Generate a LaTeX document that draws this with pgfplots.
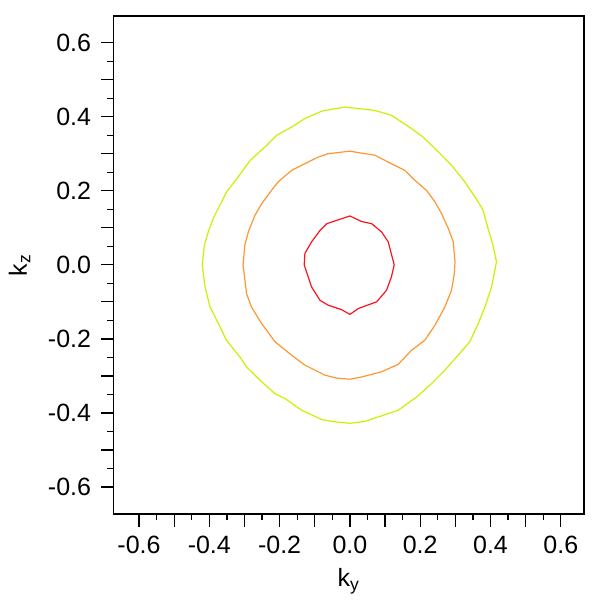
\documentclass[border=0pt]{standalone}
\usepackage{pgfplots}
\pgfplotsset{compat=1.18}
\usepackage{fontspec}
\setmainfont{Liberation Sans}
\definecolor{cgreen}{RGB}{204,240,0}
\definecolor{corange}{RGB}{255,150,50}
\definecolor{cred}{RGB}{250,20,30}
\begin{document}
\begin{tikzpicture}
\path[use as bounding box] (-56.85pt,-43pt) rectangle (243.15pt,257pt);
\begin{axis}[
  at={(0pt,0pt)}, anchor=south west,
  scale only axis, width=235.15pt, height=249pt,
  xmin=-0.672, xmax=0.666, ymin=-0.673, ymax=0.672,
  axis line style={line width=0.65pt},
  every tick/.style={black, line width=0.65pt},
  tick align=outside,
  xtick pos=bottom, ytick pos=left,
  major tick length=6.3pt, minor tick length=3.2pt,
  xtick={-0.6,-0.5,-0.4,-0.3,-0.2,-0.1,0,0.1,0.2,0.3,0.4,0.5,0.6},
  ytick={-0.6,-0.5,-0.4,-0.3,-0.2,-0.1,0,0.1,0.2,0.3,0.4,0.5,0.6},
  xticklabels={-0.6,,-0.4,,-0.2,,0.0,,0.2,,0.4,,0.6},
  yticklabels={-0.6,,-0.4,,-0.2,,0.0,,0.2,,0.4,,0.6},
  minor x tick num=1, minor y tick num=1,
  ticklabel style={font=\fontsize{12.5}{14}\selectfont},
  yticklabel style={xshift=-1.5pt},
  xticklabel style={yshift=-1pt},
  xlabel={k\textsubscript{y}}, ylabel={k\textsubscript{z}},
  label style={font=\fontsize{12.5}{14}\selectfont},
  xlabel style={at={(axis description cs:0.5,-0.135)}, anchor=center},
  ylabel style={at={(axis description cs:-0.2,0.5)}, anchor=center},
  every axis plot/.append style={line width=0.6pt, mark=none},
]
\addplot[cgreen] coordinates {
(0.417,0.008) (0.407,0.053) (0.393,0.098) (0.379,0.147) (0.365,0.170) (0.346,0.197) (0.327,0.224) (0.289,0.269) (0.242,0.314) (0.208,0.345) (0.175,0.368) (0.118,0.404) (0.071,0.417) (0.014,0.423) (-0.014,0.426) (-0.052,0.420) (-0.080,0.415) (-0.128,0.395) (-0.166,0.372) (-0.208,0.350) (-0.242,0.318) (-0.284,0.282) (-0.318,0.237) (-0.351,0.197) (-0.370,0.161) (-0.389,0.125) (-0.403,0.089) (-0.414,0.053) (-0.420,0.0) (-0.412,-0.060) (-0.398,-0.114) (-0.374,-0.159) (-0.351,-0.204) (-0.313,-0.249) (-0.294,-0.276) (-0.251,-0.316) (-0.213,-0.348) (-0.185,-0.361) (-0.137,-0.393) (-0.080,-0.418) (-0.043,-0.424) (0.0,-0.428) (0.043,-0.423) (0.080,-0.411) (0.137,-0.393) (0.190,-0.357) (0.232,-0.321) (0.270,-0.285) (0.308,-0.244) (0.341,-0.208) (0.365,-0.159) (0.384,-0.114) (0.403,-0.060) (0.417,0.008)
};
\addplot[corange] coordinates {
(0.299,0.008) (0.294,0.062) (0.280,0.098) (0.261,0.138) (0.242,0.170) (0.218,0.201) (0.185,0.228) (0.156,0.255) (0.118,0.273) (0.071,0.296) (0.024,0.303) (0,0.307) (-0.062,0.300) (-0.090,0.291) (-0.137,0.269) (-0.166,0.255) (-0.204,0.224) (-0.223,0.201) (-0.251,0.165) (-0.270,0.134) (-0.289,0.089) (-0.299,0.053) (-0.304,0.0) (-0.294,-0.078) (-0.280,-0.114) (-0.251,-0.159) (-0.213,-0.208) (-0.166,-0.244) (-0.128,-0.271) (-0.071,-0.298) (-0.038,-0.306) (0,-0.309) (0.033,-0.303) (0.090,-0.289) (0.137,-0.269) (0.175,-0.231) (0.213,-0.204) (0.242,-0.163) (0.270,-0.114) (0.289,-0.069) (0.297,-0.024) (0.299,0.008)
};
\addplot[cred] coordinates {
(0.126,0.0) (0.109,0.062) (0.090,0.089) (0.062,0.111) (0.033,0.117) (0,0.132) (-0.066,0.111) (-0.085,0.093) (-0.109,0.062) (-0.128,0.031) (-0.130,0.0) (-0.109,-0.060) (-0.085,-0.096) (-0.062,-0.109) (-0.024,-0.121) (0,-0.134) (0.024,-0.118) (0.076,-0.100) (0.104,-0.069) (0.118,-0.033) (0.126,0.0)
};
\end{axis}
\end{tikzpicture}
\end{document}
